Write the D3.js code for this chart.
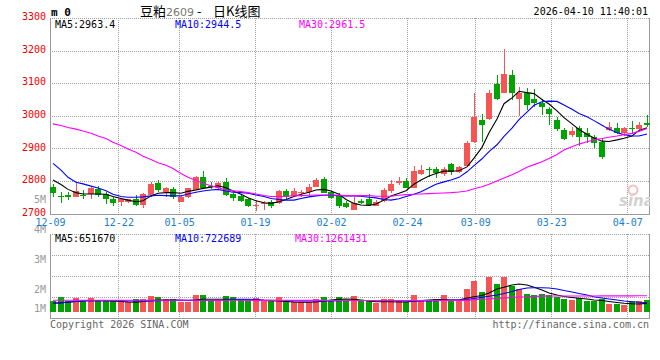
<!DOCTYPE html>
<html><head><meta charset="utf-8">
<script src="https://cdn.jsdelivr.net/npm/d3@7"></script>
<style>
html,body{margin:0;padding:0;background:#fff;}
svg{display:block;}
</style></head><body>
<svg id="c" width="660" height="360"></svg>
<script>
// ---------------- data ----------------
const dates = ["12-09","12-10","12-11","12-12","12-15","12-16","12-17","12-18","12-19","12-22",
"12-23","12-24","12-25","12-26","12-29","12-30","12-31","01-05","01-06","01-07",
"01-08","01-09","01-12","01-13","01-14","01-15","01-16","01-19","01-20","01-21",
"01-22","01-23","01-26","01-27","01-28","01-29","01-30","02-02","02-03","02-04",
"02-05","02-06","02-09","02-10","02-11","02-12","02-13","02-24","02-25","02-26",
"02-27","03-02","03-03","03-04","03-05","03-06","03-09","03-10","03-11","03-12",
"03-13","03-16","03-17","03-18","03-19","03-20","03-23","03-24","03-25","03-26",
"03-27","03-30","03-31","04-01","04-02","04-03","04-07","04-08","04-09","04-10"];

const open = [2782,2755,2757,2752,2757,2759,2774,2759,2746,2734,
2736,2743,2726,2757,2793,2765,2775,2736,2750,2772,
2811,2785,2777,2798,2760,2754,2745,2725,2729,2736,
2731,2769,2754,2766,2767,2782,2806,2765,2757,2733,
2711,2738,2743,2724,2738,2769,2793,2800,2779,2820,
2837,2836,2820,2851,2827,2846,2920,2987,2989,3098,
3071,3125,3050,3071,3050,3040,3020,2987,2956,2941,
2961,2946,2934,2920,2956,2961,2948,2962,2959,2979];
const high = [2791,2767,2767,2793,2772,2782,2784,2767,2752,2746,
2746,2757,2764,2798,2803,2782,2782,2757,2779,2815,
2829,2798,2798,2808,2764,2757,2749,2741,2739,2741,
2772,2774,2777,2772,2791,2810,2811,2769,2762,2738,
2750,2746,2759,2741,2779,2803,2813,2808,2846,2849,
2844,2844,2844,2854,2846,2922,3069,3005,3079,3125,
3204,3140,3087,3084,3081,3050,3028,2995,2961,2967,
2969,2961,2941,2931,2982,2977,2966,2985,2982,3002];
const low = [2752,2733,2741,2750,2746,2746,2750,2729,2724,2723,
2733,2723,2718,2752,2765,2752,2746,2736,2749,2772,
2777,2775,2775,2754,2739,2736,2721,2709,2711,2716,
2729,2746,2752,2752,2750,2782,2762,2746,2718,2718,
2711,2729,2724,2724,2736,2764,2788,2777,2777,2818,
2813,2808,2815,2818,2823,2846,2917,2920,2987,3048,
3069,3048,2999,3018,3028,3002,2972,2954,2926,2934,
2907,2917,2900,2866,2954,2944,2938,2944,2956,2966];
const close = [2762,2754,2750,2769,2756,2777,2757,2746,2733,2743,
2743,2726,2760,2791,2772,2779,2750,2752,2777,2812,
2779,2784,2793,2757,2748,2738,2724,2726,2733,2724,
2769,2752,2769,2767,2782,2803,2764,2749,2724,2721,
2733,2731,2726,2736,2772,2791,2801,2779,2831,2833,
2836,2823,2836,2828,2842,2915,2997,2972,3071,3051,
3128,3069,3071,3033,3038,3026,3005,2958,2928,2954,
2936,2936,2915,2872,2966,2946,2961,2961,2972,2971];

const ma5 = [2803,2789,2774,2764,2760,2760,2760,2759,2752,2746,
2741,2736,2739,2754,2762,2764,2764,2762,2768,2772,
2777,2781,2785,2779,2769,2759,2748,2739,2733,2731,
2736,2743,2752,2759,2765,2772,2774,2769,2759,2743,
2731,2726,2725,2729,2741,2754,2762,2770,2790,2803,
2815,2823,2830,2830,2831,2843,2870,2903,2948,2990,
3037,3055,3075,3071,3068,3050,3036,3015,2994,2975,
2958,2943,2932,2922,2921,2926,2931,2938,2955,2963];
const ma10 = [2854,2833,2811,2796,2791,2784,2778,2770,2759,2752,
2750,2750,2751,2754,2756,2755,2754,2754,2760,2765,
2769,2772,2774,2769,2765,2764,2762,2757,2752,2746,
2743,2741,2741,2746,2751,2754,2756,2756,2755,2754,
2754,2753,2750,2748,2743,2741,2745,2752,2759,2767,
2779,2790,2797,2803,2811,2828,2847,2868,2890,2911,
2937,2962,2988,3011,3032,3043,3045,3044,3033,3020,
3007,2997,2985,2971,2959,2948,2942,2938,2938,2944];
const ma30 = [2975,2970,2964,2959,2953,2946,2938,2930,2919,2909,
2898,2888,2876,2866,2856,2848,2838,2823,2811,2801,
2793,2785,2780,2772,2770,2767,2764,2760,2755,2752,
2752,2753,2754,2755,2756,2757,2757,2757,2756,2755,
2755,2755,2755,2753,2753,2753,2756,2758,2759,2760,
2761,2762,2763,2764,2766,2769,2776,2782,2790,2800,
2809,2819,2829,2842,2850,2859,2869,2881,2895,2905,
2913,2920,2926,2930,2934,2938,2942,2946,2952,2961];

const volume = [820000,1180000,840000,1080000,840000,1080000,840000,840000,840000,880000,
760000,1000000,1000000,1260000,1180000,1000000,1000000,760000,800000,1320000,
1320000,840000,840000,1240000,1180000,960000,1000000,1060000,920000,860000,
1180000,860000,740000,740000,740000,1000000,1180000,860000,1180000,860000,
1260000,840000,840000,680000,1000000,1000000,920000,800000,1320000,840000,
840000,1000000,1320000,840000,840000,1800000,2440000,1560000,2760000,2200000,
2760000,2040000,1800000,1400000,1320000,1400000,1320000,1180000,1000000,920000,
1080000,840000,840000,1000000,600000,600000,520000,840000,840000,920000];
const volMa5 = [660000,680000,740000,800000,860000,860000,860000,860000,840000,800000,
760000,740000,800000,880000,920000,920000,920000,900000,880000,920000,
980000,980000,980000,980000,980000,960000,920000,920000,880000,860000,
840000,800000,760000,740000,740000,760000,840000,920000,980000,1000000,
980000,920000,840000,780000,780000,780000,760000,760000,820000,880000,
920000,960000,960000,920000,920000,1080000,1180000,1280000,1480000,1800000,
1940000,2120000,2200000,2120000,1940000,1720000,1480000,1320000,1200000,1120000,
1060000,1000000,920000,880000,800000,720000,660000,620000,600000,651670];
const volMa10 = [680000,720000,760000,800000,840000,860000,860000,860000,860000,860000,
840000,840000,840000,840000,860000,880000,900000,900000,900000,900000,
900000,900000,900000,920000,960000,980000,980000,960000,920000,900000,
880000,860000,840000,840000,840000,840000,840000,840000,860000,880000,
880000,880000,880000,880000,880000,880000,860000,840000,840000,840000,
840000,860000,900000,920000,920000,960000,1040000,1140000,1220000,1320000,
1440000,1600000,1760000,1880000,1900000,1900000,1880000,1800000,1680000,1560000,
1440000,1320000,1180000,1080000,1000000,920000,840000,780000,740000,722689];
const volMa30 = [900000,900000,900000,900000,900000,900000,900000,900000,900000,900000,
900000,900000,900000,900000,900000,900000,900000,900000,900000,900000,
900000,900000,900000,900000,900000,900000,890000,890000,890000,890000,
890000,890000,890000,890000,890000,890000,890000,880000,880000,880000,
880000,880000,880000,880000,880000,880000,880000,880000,880000,880000,
880000,890000,890000,890000,890000,890000,940000,980000,1000000,1040000,
1080000,1120000,1160000,1180000,1210000,1230000,1240000,1240000,1240000,1240000,
1240000,1240000,1240000,1250000,1250000,1250000,1250000,1250000,1260000,1261431];

const priceTicks = [2700,2800,2900,3000,3100,3200,3300];
const volTicks = [1000000,2000000,3000000,4000000,5000000];
const dateTicks = ["12-09","12-22","01-05","01-19","02-02","02-24","03-09","03-23","04-07"];
const maNames = ["MA5","MA10","MA30"];
const maLegendMain = [2963.4,2944.5,2961.5];
const maLegendVol = [651670,722689,1261431];
const titleParts = ["豆粕","2609","-","日K线图"];
const symbolText = "m 0";
const stampText = "2026-04-10 11:40:01";
const copyText = "Copyright 2026 SINA.COM";
const urlText = "http://finance.sina.com.cn";

// ---------------- layout / style ----------------
const W = 660, H = 360;
const L = 50, R = 650;
const mainTop = 18, mainBot = 213.5;
const volTop = 234, volBot = 318, volBase = 311.5;
const RED = "#f65555", GREEN = "#00a300";
const maColors = ["#000000","#0000ff","#ff00ff"];
const mono = "'DejaVu Sans Mono', 'Liberation Mono', monospace";
const cjk = "'Noto Sans CJK SC', 'Noto Sans', sans-serif";
const gridColor = "#a0a0a0", borderColor = "#999999";

const svg = d3.select("#c");
svg.append("rect").attr("width", W).attr("height", H).attr("fill", "#fff");

const n = dates.length;
const x = d3.scaleBand().domain(d3.range(n)).range([L, R]).paddingInner(0.2);
const xg = d3.scaleLinear().domain([0, n - 1]).range([L, R]);
const y = d3.scaleLinear().domain([2700, 3300]).range([mainBot, mainTop]);
const yv = d3.scaleLinear().domain([0, 6200000]).range([volBase, volTop]);
const yvLabel = d3.scaleLinear().domain([1000000, 2000000, 5000000]).range([310, 290.5, 201]);
const bw = Math.round(x.bandwidth());
const bx = i => Math.round(x(i));
const cx = i => bx(i) + 3;
const tickIdx = dateTicks.map(t => dates.indexOf(t));

const defs = svg.append("defs");
defs.append("clipPath").attr("id", "clipMain").append("rect")
  .attr("x", L).attr("y", mainTop).attr("width", R - L).attr("height", mainBot - mainTop);
defs.append("clipPath").attr("id", "clipVol").append("rect")
  .attr("x", L).attr("y", volTop).attr("width", R - L).attr("height", volBot - volTop);

// ---------------- grids ----------------
const grid = svg.append("g").attr("shape-rendering", "crispEdges")
  .attr("stroke", gridColor).attr("stroke-dasharray", "1,1").attr("fill", "none");
// main horizontal
grid.selectAll("line.h").data(priceTicks.filter(d => d > 2700)).join("line")
  .attr("x1", L).attr("x2", R).attr("y1", d => Math.round(y(d)) + 0.5).attr("y2", d => Math.round(y(d)) + 0.5);
// main vertical
grid.selectAll("line.v").data(tickIdx.filter(i => i > 0)).join("line").attr("class", "v")
  .attr("x1", i => Math.round(xg(i)) + 0.5).attr("x2", i => Math.round(xg(i)) + 0.5)
  .attr("y1", mainTop).attr("y2", mainBot);
// volume horizontal
const volGridY = d3.range(4).map(k => volTop + k * (volBot - volTop) / 4);
grid.selectAll("line.vh").data(volGridY).join("line").attr("class", "vh")
  .attr("x1", L).attr("x2", R).attr("y1", d => Math.round(d) + 0.5).attr("y2", d => Math.round(d) + 0.5);
grid.selectAll("line.vv").data(tickIdx.filter(i => i > 0)).join("line").attr("class", "vv")
  .attr("x1", i => Math.round(xg(i)) + 0.5).attr("x2", i => Math.round(xg(i)) + 0.5)
  .attr("y1", volTop).attr("y2", volBot);

// borders (solid)
const border = svg.append("g").attr("shape-rendering", "crispEdges").attr("stroke", borderColor).attr("fill", "none");
border.append("path").attr("d", `M${L + 0.5},${mainTop}V${Math.round(mainBot) + 0.5}H${R - 0.5}V${mainTop}`);
border.append("path").attr("d", `M${L + 0.5},${volTop}V${volBot + 0.5}H${R - 0.5}V${volTop}`);

// ---------------- watermark ----------------
const wm = svg.append("g").attr("clip-path", "url(#clipMain)");
wm.append("circle").attr("cx", 633).attr("cy", 190).attr("r", 4.5)
  .attr("fill", "none").attr("stroke", "#f2c0c0").attr("stroke-width", 2);
wm.append("text").attr("x", 619).attr("y", 206).attr("font-family", "'DejaVu Sans', sans-serif")
  .attr("font-size", 15).attr("font-weight", "bold").attr("font-style", "italic")
  .attr("fill", "#d2d2d2").text("sina");

// ---------------- candles ----------------
const cg = svg.append("g").attr("clip-path", "url(#clipMain)").attr("shape-rendering", "crispEdges");
const idx = d3.range(n);
const col = i => close[i] >= open[i] ? RED : GREEN;
cg.selectAll("rect.w").data(idx).join("rect").attr("class", "w")
  .attr("x", i => bx(i) + 3).attr("width", 1)
  .attr("y", i => Math.round(y(high[i])))
  .attr("height", i => Math.max(1, Math.round(y(low[i])) - Math.round(y(high[i]))))
  .attr("fill", col);
cg.selectAll("rect.b").data(idx).join("rect").attr("class", "b")
  .attr("x", i => bx(i)).attr("width", bw)
  .attr("y", i => Math.round(y(Math.max(open[i], close[i]))))
  .attr("height", i => Math.max(1, Math.round(y(Math.min(open[i], close[i]))) - Math.round(y(Math.max(open[i], close[i])))))
  .attr("fill", col);

// MA lines main
const lineMain = d3.line().x((d, i) => cx(i)).y(d => y(d));
[ma5, ma10, ma30].forEach((s, k) => {
  cg.append("path").datum(s).attr("d", lineMain).attr("fill", "none")
    .attr("stroke", maColors[k]).attr("stroke-width", 1.1).attr("shape-rendering", "auto");
});

// ---------------- volume ----------------
const vg = svg.append("g").attr("clip-path", "url(#clipVol)").attr("shape-rendering", "crispEdges");
vg.selectAll("rect").data(idx).join("rect")
  .attr("x", i => bx(i)).attr("width", bw)
  .attr("y", i => Math.round(yv(volume[i])))
  .attr("height", i => Math.round(yv(0)) - Math.round(yv(volume[i])))
  .attr("fill", col);
const lineVol = d3.line().x((d, i) => cx(i)).y(d => yv(d));
[volMa5, volMa10, volMa30].forEach((s, k) => {
  vg.append("path").datum(s).attr("d", lineVol).attr("fill", "none")
    .attr("stroke", maColors[k]).attr("stroke-width", 1.1).attr("shape-rendering", "auto");
});

// ---------------- axes ----------------
const priceAxis = svg.append("g").attr("transform", `translate(${L},0)`)
  .call(d3.axisLeft(y).tickValues(priceTicks).tickSize(0).tickPadding(4).tickFormat(d3.format("d")));
priceAxis.select(".domain").remove();
priceAxis.selectAll("text").attr("fill", "#ee0000").attr("font-family", mono).attr("font-size", 10).attr("dy", "0.17em");

const volAxis = svg.append("g").attr("transform", `translate(${L},0)`)
  .call(d3.axisLeft(yvLabel).tickValues(volTicks).tickSize(0).tickPadding(4).tickFormat(d => (d / 1e6) + "M"));
volAxis.select(".domain").remove();
volAxis.selectAll("text").attr("fill", "#999").attr("font-family", mono).attr("font-size", 10).attr("dy", "0.17em");

const dateAxis = svg.append("g").attr("transform", `translate(0,${mainBot})`)
  .call(d3.axisBottom(xg).tickValues(tickIdx).tickSize(0).tickPadding(5).tickFormat(i => dates[i]));
dateAxis.select(".domain").remove();
dateAxis.selectAll("text").attr("fill", "#1a7fd0").attr("font-family", mono).attr("font-size", 10);

// ---------------- legends ----------------
const legX = [55, 175, 299];
const legXv = [55, 175, 295];
const lm = svg.append("text").attr("y", 27.5).attr("font-family", mono).attr("font-size", 10);
maNames.forEach((nm, k) => lm.append("tspan").attr("x", legX[k]).attr("fill", maColors[k])
  .text(nm + ":" + d3.format(".1f")(maLegendMain[k])));
const lv = svg.append("text").attr("y", 242).attr("font-family", mono).attr("font-size", 10);
maNames.forEach((nm, k) => lv.append("tspan").attr("x", legXv[k]).attr("fill", maColors[k])
  .text(nm + ":" + maLegendVol[k]));

// ---------------- header / footer ----------------
svg.append("text").attr("x", 51).attr("y", 15.5).attr("font-family", mono).attr("font-size", 11)
  .attr("font-weight", "bold").attr("fill", "#000").text(symbolText);
const title = svg.append("text").attr("y", 15.5).attr("font-family", cjk).attr("font-size", 13).attr("fill", "#000");
title.append("tspan").attr("x", 140).text(titleParts[0]);
title.append("tspan").attr("x", 166).attr("font-size", 11).attr("fill", "#777").attr("font-family", "'DejaVu Sans', sans-serif").text(titleParts[1]);
title.append("tspan").attr("x", 197).text(titleParts[2]);
title.append("tspan").attr("x", 213).text(titleParts[3]);
svg.append("text").attr("x", 648).attr("y", 15.3).attr("text-anchor", "end").attr("font-family", mono)
  .attr("font-size", 10).attr("fill", "#000").text(stampText);
svg.append("text").attr("x", 50).attr("y", 327.5).attr("font-family", mono).attr("font-size", 10)
  .attr("fill", "#666").text(copyText);
svg.append("text").attr("x", 649).attr("y", 327.5).attr("text-anchor", "end").attr("font-family", mono)
  .attr("font-size", 10).attr("fill", "#666").text(urlText);
</script>
</body></html>
